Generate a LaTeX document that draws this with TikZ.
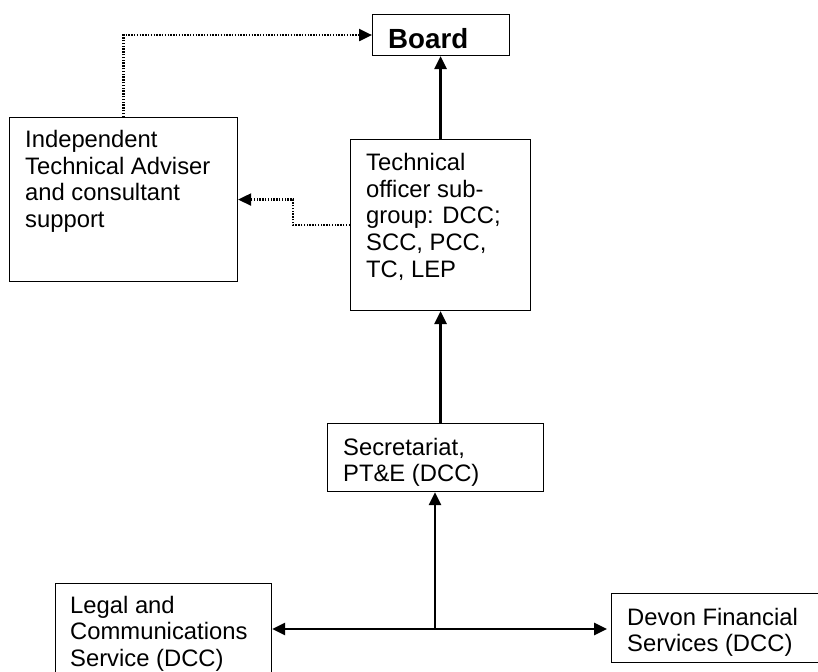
\documentclass[tikz,border=0pt]{standalone}
\usepackage{fontspec}
\setmainfont{Liberation Sans}
\usetikzlibrary{arrows.meta}
\begin{document}
\begin{tikzpicture}[x=1pt,y=-1pt,
  box/.style={draw, line width=1.1pt, inner sep=0pt, anchor=north west},
  txt/.style={inner sep=0pt, anchor=base west, font=\fontsize{23.8}{26.5}\selectfont},
  link/.style={line width=2.6pt, -{Triangle[length=13pt,width=12pt]}},
  dots/.style={line width=2.2pt, dash pattern=on 1.4pt off 1.4pt, -{Triangle[length=13pt,width=12pt]}}]
\useasboundingbox (0,0) rectangle (818,671);
% boxes
\node[box, minimum width=137pt, minimum height=41pt] (board) at (372,14) {};
\node[box, minimum width=228pt, minimum height=164pt] (ita) at (9,117) {};
\node[box, minimum width=180pt, minimum height=171pt] (tech) at (350,139) {};
\node[box, minimum width=216pt, minimum height=68pt] (sec) at (327,423) {};
\node[box, minimum width=216pt, minimum height=110pt] (legal) at (55,583) {};
\node[box, minimum width=230pt, minimum height=69pt] (devon) at (611,593) {};
% texts
\node[inner sep=0pt, anchor=base west, font=\fontsize{27.7}{30}\selectfont\bfseries] (boardt) at (388,49) {Board};
\node[txt] (itat) at (25,148) {\parbox[t]{220pt}{\raggedright Independent\\Technical Adviser\\and consultant\\support}};
\node[txt] (techt) at (366,171) {\parbox[t]{160pt}{\raggedright Technical\\officer sub-\\group: DCC;\\SCC, PCC,\\TC, LEP}};
\node[txt] (sect) at (343,455) {\parbox[t]{200pt}{\raggedright Secretariat,\\PT\&E (DCC)}};
\node[txt] (legalt) at (70,613) {\parbox[t]{200pt}{\raggedright Legal and\\Communications\\Service (DCC)}};
\node[txt] (devont) at (627,625) {\parbox[t]{200pt}{\raggedright Devon Financial\\Services (DCC)}};
% connectors
\coordinate (j) at (435,629);
\draw[link] (tech.north) -- (tech.north |- board.south);
\draw[link] (tech.south |- sec.north) -- (tech.south);
\draw[link] (j) -- (j |- sec.south);
\draw[link] (j) -- (j -| legal.east);
\draw[link, shorten >=4pt] (j) -- (j -| devon.west);
\draw[dots] (ita.north) |- (board.west);
\draw[dots] (tech.west) -- ++(-57,0) |- (ita.east);
\end{tikzpicture}
\end{document}
